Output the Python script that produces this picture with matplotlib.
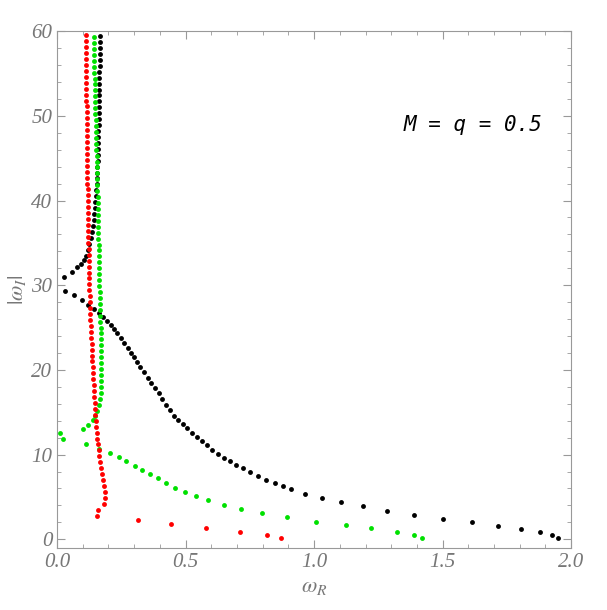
import matplotlib.pyplot as plt
from matplotlib.ticker import MultipleLocator

plt.rcParams['mathtext.fontset'] = 'stix'

# branches: (omega_R, |omega_I|)
black_up = [(0.028, 31.0), (0.060, 31.6), (0.079, 32.1), (0.093, 32.5), (0.105, 33.0), (0.113, 33.5),
            (0.120, 34.2), (0.126, 34.9), (0.131, 35.6), (0.135, 36.3), (0.139, 37.0), (0.142, 37.7),
            (0.145, 38.4), (0.147, 39.1), (0.149, 39.8), (0.151, 40.5), (0.153, 41.2), (0.154, 41.9),
            (0.155, 42.6), (0.156, 43.3), (0.157, 44.0), (0.158, 44.7), (0.159, 45.4), (0.160, 46.1),
            (0.160, 46.8), (0.161, 47.5), (0.161, 48.2), (0.162, 48.9), (0.162, 49.6), (0.163, 50.3),
            (0.163, 51.0), (0.164, 51.7), (0.164, 52.4), (0.164, 53.1), (0.165, 53.8), (0.165, 54.5),
            (0.165, 55.2), (0.166, 55.9), (0.166, 56.6), (0.166, 57.3), (0.167, 58.0), (0.167, 58.7),
            (0.167, 59.4)]
black_down = [(0.031, 29.3), (0.066, 28.8), (0.097, 28.3), (0.121, 27.7), (0.144, 27.2), (0.162, 26.7),
              (0.178, 26.2), (0.193, 25.8), (0.208, 25.3), (0.222, 24.8), (0.235, 24.3), (0.248, 23.8),
              (0.262, 23.2), (0.275, 22.6), (0.287, 22.0), (0.299, 21.5), (0.311, 20.9), (0.324, 20.3),
              (0.339, 19.7), (0.352, 19.1), (0.366, 18.5), (0.380, 17.9), (0.395, 17.3), (0.410, 16.6),
              (0.424, 15.9), (0.440, 15.3), (0.456, 14.6), (0.472, 14.1), (0.489, 13.6), (0.506, 13.1),
              (0.524, 12.6), (0.543, 12.1), (0.562, 11.6), (0.582, 11.1), (0.603, 10.6), (0.625, 10.1),
              (0.648, 9.6), (0.672, 9.2), (0.697, 8.8), (0.724, 8.4), (0.752, 8.0), (0.782, 7.5),
              (0.813, 7.0), (0.846, 6.6), (0.877, 6.25), (0.909, 5.9), (0.965, 5.4), (1.030, 4.9),
              (1.104, 4.4), (1.189, 3.9), (1.285, 3.4), (1.390, 2.9), (1.503, 2.4), (1.613, 2.0),
              (1.717, 1.6), (1.805, 1.2), (1.877, 0.9), (1.925, 0.5), (1.948, 0.15)]

green_up = [(0.148, 14.5), (0.156, 15.2), (0.163, 15.9), (0.167, 16.6), (0.169, 17.3),
            (0.170, 18.0), (0.171, 18.7), (0.171, 19.4), (0.171, 20.1), (0.171, 20.8),
            (0.170, 21.5), (0.170, 22.2), (0.170, 22.9), (0.169, 23.6), (0.169, 24.3),
            (0.169, 25.0), (0.168, 25.7), (0.168, 26.4), (0.167, 27.1), (0.167, 27.8),
            (0.166, 28.5), (0.166, 29.2), (0.165, 29.9), (0.165, 30.6), (0.164, 31.3),
            (0.164, 32.0), (0.163, 32.7), (0.163, 33.4), (0.162, 34.1), (0.162, 34.8),
            (0.161, 35.5), (0.161, 36.2), (0.160, 36.9), (0.160, 37.6), (0.159, 38.3),
            (0.159, 39.0), (0.158, 39.7), (0.158, 40.4), (0.157, 41.1), (0.157, 41.8),
            (0.156, 42.5), (0.155, 43.2), (0.155, 43.9), (0.154, 44.6), (0.154, 45.3),
            (0.153, 46.0), (0.152, 46.7), (0.152, 47.4), (0.151, 48.1), (0.151, 48.8),
            (0.150, 49.5), (0.149, 50.2), (0.149, 50.9), (0.148, 51.6), (0.148, 52.3),
            (0.147, 53.0), (0.146, 53.7), (0.146, 54.4), (0.145, 55.1), (0.145, 55.8),
            (0.144, 56.5), (0.143, 57.2), (0.143, 57.9), (0.142, 58.6), (0.142, 59.3),
            (0.139, 14.1), (0.122, 13.5), (0.099, 13.0)]
green_down = [(0.012, 12.5), (0.025, 11.8), (0.112, 11.2), (0.165, 10.7), (0.206, 10.2), (0.241, 9.7),
              (0.270, 9.2), (0.302, 8.7), (0.330, 8.2), (0.360, 7.7), (0.392, 7.2), (0.424, 6.6),
              (0.459, 6.1), (0.498, 5.6), (0.539, 5.1), (0.588, 4.6), (0.648, 4.1), (0.716, 3.6),
              (0.798, 3.1), (0.896, 2.6), (1.006, 2.1), (1.123, 1.65), (1.222, 1.3), (1.324, 0.9),
              (1.389, 0.5), (1.421, 0.15)]

red_up = [(0.183, 4.2), (0.188, 4.9), (0.186, 5.6), (0.181, 6.3), (0.177, 7.0),
          (0.173, 7.7), (0.170, 8.4), (0.167, 9.1), (0.164, 9.8), (0.162, 10.5),
          (0.159, 11.2), (0.157, 11.9), (0.155, 12.6), (0.153, 13.3), (0.151, 14.0),
          (0.149, 14.7), (0.148, 15.4), (0.146, 16.1), (0.145, 16.8), (0.143, 17.5),
          (0.142, 18.2), (0.141, 18.9), (0.139, 19.6), (0.138, 20.3), (0.137, 21.0),
          (0.136, 21.7), (0.135, 22.4), (0.134, 23.1), (0.133, 23.8), (0.132, 24.5),
          (0.131, 25.2), (0.130, 25.9), (0.129, 26.6), (0.128, 27.3), (0.128, 28.0),
          (0.127, 28.7), (0.126, 29.4), (0.126, 30.1), (0.125, 30.8), (0.125, 31.5),
          (0.124, 32.2), (0.124, 32.9), (0.123, 33.6), (0.123, 34.3), (0.122, 35.0),
          (0.122, 35.7), (0.121, 36.4), (0.121, 37.1), (0.120, 37.8), (0.120, 38.5),
          (0.120, 39.2), (0.119, 39.9), (0.119, 40.6), (0.119, 41.3), (0.118, 42.0),
          (0.118, 42.7), (0.118, 43.4), (0.117, 44.1), (0.117, 44.8), (0.117, 45.5),
          (0.116, 46.2), (0.116, 46.9), (0.116, 47.6), (0.116, 48.3), (0.115, 49.0),
          (0.115, 49.7), (0.115, 50.4), (0.115, 51.1), (0.114, 51.8), (0.114, 52.5),
          (0.114, 53.2), (0.114, 53.9), (0.114, 54.6), (0.113, 55.3), (0.113, 56.0),
          (0.113, 56.7), (0.113, 57.4), (0.113, 58.1), (0.113, 58.8), (0.112, 59.5)]
red_down = [(0.161, 3.5), (0.157, 2.8), (0.316, 2.3), (0.444, 1.8), (0.580, 1.3), (0.712, 0.9),
            (0.816, 0.5), (0.872, 0.15)]

fig = plt.figure(figsize=(6.07, 6.10), dpi=100)
ax = fig.add_axes([0.094, 0.102, 0.847, 0.847])

for pts, col in [(black_up + black_down, 'black'), (green_up + green_down, '#00e000'),
                 (red_up + red_down, 'red')]:
    xs = [p[0] for p in pts]
    ys = [p[1] for p in pts]
    ax.plot(xs, ys, 'o', color=col, markersize=3.5, markeredgewidth=0, clip_on=False)

ax.set_xlim(0, 2.0)
ax.set_ylim(-1, 60)
ax.xaxis.set_major_locator(MultipleLocator(0.5))
ax.xaxis.set_minor_locator(MultipleLocator(0.1))
ax.yaxis.set_major_locator(MultipleLocator(10))
ax.yaxis.set_minor_locator(MultipleLocator(2))
ax.tick_params(which='both', direction='in', top=True, right=True, color='#999999',
               labelcolor='#777777', labelsize=15)
ax.tick_params(which='major', length=6)
ax.tick_params(which='minor', length=3)
ax.set_xticks([0, 0.5, 1.0, 1.5, 2.0])
ax.set_xticklabels(['0.0', '0.5', '1.0', '1.5', '2.0'])
for lab in ax.get_xticklabels() + ax.get_yticklabels():
    lab.set_family('Liberation Serif')
    lab.set_style('italic')
for s in ax.spines.values():
    s.set_color('#999999')

ax.set_xlabel(r'$\omega_R$', color='#777777', fontsize=16)
ax.set_ylabel(r'$|\omega_I|$', color='#777777', fontsize=16, labelpad=2)
ax.text(1.35, 48.2, 'M = q = 0.5', family='DejaVu Sans Mono', style='italic', fontsize=15)

fig.savefig('out.png', dpi=100)
